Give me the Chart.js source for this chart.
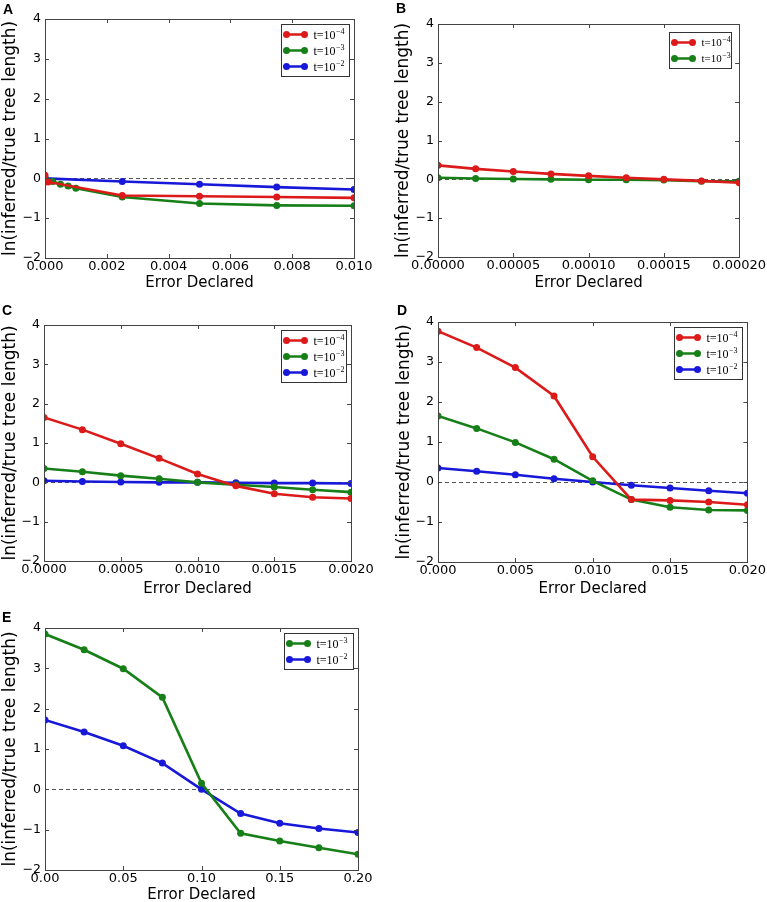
<!DOCTYPE html>
<html>
<head>
<meta charset="utf-8">
<script src="https://cdn.jsdelivr.net/npm/chart.js@4.4.0/dist/chart.umd.min.js"></script>
<style>
  body { margin: 0; background: #fff; overflow: hidden; }
  #fig { position: relative; width: 767px; height: 902px; background: #fff; }
  .panel { position: absolute; }
  .tag { position: absolute; font: bold 14px "Liberation Sans", Arial, sans-serif; line-height: 14px; color: #000; }
</style>
</head>
<body>
<div id="fig">
  <div class="panel" style="left:0px;top:0px;width:384px;height:300px"><canvas id="chartA"></canvas></div>
  <div class="panel" style="left:384px;top:0px;width:383px;height:300px"><canvas id="chartB"></canvas></div>
  <div class="panel" style="left:0px;top:300px;width:384px;height:300px"><canvas id="chartC"></canvas></div>
  <div class="panel" style="left:384px;top:300px;width:383px;height:300px"><canvas id="chartD"></canvas></div>
  <div class="panel" style="left:0px;top:600px;width:384px;height:310px"><canvas id="chartE"></canvas></div>
  <div class="tag" style="left:3px;top:2px">A</div>
  <div class="tag" style="left:396px;top:1px">B</div>
  <div class="tag" style="left:2px;top:303px">C</div>
  <div class="tag" style="left:397px;top:303px">D</div>
  <div class="tag" style="left:2px;top:610px">E</div>
</div>
<script>
'use strict';

// series names (exponent after ^)
const labelT4 = 't=10^−4';
const labelT3 = 't=10^−3';
const labelT2 = 't=10^−2';

const red = '#dc1a1a';
const green = '#177f17';
const blue = '#1818d8';

// y axis (same for all panels)
const yTicks = [-2, -1, 0, 1, 2, 3, 4];
const yTickLabels = ['−2', '−1', '0', '1', '2', '3', '4'];

/******************** */
// panel A

const xTickLabelsA = ['0.000', '0.002', '0.004', '0.006', '0.008', '0.010'];
const errA4 = [0, 0.0001, 0.0025, 0.005, 0.0075, 0.01];
const valA4 = [0.08, -0.09, -0.43, -0.45, -0.47, -0.49];
const errA3 = [0, 0.00025, 0.0005, 0.00075, 0.001, 0.0025, 0.005, 0.0075, 0.01];
const valA3 = [0.02, -0.08, -0.15, -0.19, -0.25, -0.47, -0.63, -0.68, -0.69];
const errA2 = [0, 0.0025, 0.005, 0.0075, 0.01];
const valA2 = [0.0, -0.08, -0.15, -0.22, -0.28];

/******************** */
// panel B

const xTickLabelsB = ['0.00000', '0.00005', '0.00010', '0.00015', '0.00020'];
const errB = [0, 0.000025, 0.00005, 0.000075, 0.0001, 0.000125, 0.00015, 0.000175, 0.0002];
const valB4 = [0.36, 0.27, 0.2, 0.14, 0.09, 0.04, 0.0, -0.04, -0.09];
const valB3 = [0.04, 0.02, 0.01, 0.0, -0.01, -0.01, -0.02, -0.05, -0.05];

/******************** */
// panel C

const xTickLabelsC = ['0.0000', '0.0005', '0.0010', '0.0015', '0.0020'];
const errC = [0, 0.00025, 0.0005, 0.00075, 0.001, 0.00125, 0.0015, 0.00175, 0.002];
const valC4 = [1.65, 1.34, 0.98, 0.61, 0.21, -0.09, -0.29, -0.38, -0.41];
const valC3 = [0.35, 0.27, 0.17, 0.09, 0.0, -0.06, -0.12, -0.19, -0.25];
const valC2 = [0.04, 0.02, 0.01, 0.0, 0.0, -0.01, -0.02, -0.02, -0.03];

/******************** */
// panel D

const xTickLabelsD = ['0.000', '0.005', '0.010', '0.015', '0.020'];
const errD = [0, 0.0025, 0.005, 0.0075, 0.01, 0.0125, 0.015, 0.0175, 0.02];
const valD4 = [3.77, 3.36, 2.86, 2.15, 0.63, -0.44, -0.46, -0.5, -0.57];
const valD3 = [1.65, 1.34, 0.99, 0.57, 0.03, -0.44, -0.63, -0.7, -0.71];
const valD2 = [0.35, 0.27, 0.18, 0.08, 0.0, -0.08, -0.15, -0.22, -0.28];

/******************** */
// panel E

const xTickLabelsE = ['0.00', '0.05', '0.10', '0.15', '0.20'];
const errE = [0, 0.025, 0.05, 0.075, 0.1, 0.125, 0.15, 0.175, 0.2];
const valE3 = [3.85, 3.46, 2.99, 2.28, 0.15, -1.09, -1.28, -1.45, -1.61];
const valE2 = [1.72, 1.42, 1.08, 0.65, 0.0, -0.6, -0.84, -0.97, -1.07];

/****************************************/
// plugins

// dashed zero line, box and inward ticks like old matplotlib
const mplFrame = {
    id: 'mplFrame',
    beforeDatasetsDraw(chart) {
        const { ctx, chartArea: a, scales } = chart;
        const y0 = Math.round(scales.y.getPixelForValue(0)) + 0.5;
        ctx.save();
        ctx.strokeStyle = '#555';
        ctx.lineWidth = 1;
        ctx.setLineDash([4, 3]);
        ctx.beginPath();
        ctx.moveTo(a.left, y0);
        ctx.lineTo(a.right, y0);
        ctx.stroke();
        ctx.restore();
    },
    afterDatasetsDraw(chart) {
        const { ctx, chartArea: a, scales } = chart;
        const len = 4;
        ctx.save();
        ctx.strokeStyle = '#444';
        ctx.lineWidth = 1;
        ctx.beginPath();
        scales.x.ticks.forEach(t => {
            const px = Math.round(scales.x.getPixelForValue(t.value)) + 0.5;
            ctx.moveTo(px, a.bottom);
            ctx.lineTo(px, a.bottom - len);
            ctx.moveTo(px, a.top);
            ctx.lineTo(px, a.top + len);
        });
        scales.y.ticks.forEach(t => {
            const py = Math.round(scales.y.getPixelForValue(t.value)) + 0.5;
            ctx.moveTo(a.left, py);
            ctx.lineTo(a.left + len, py);
            ctx.moveTo(a.right, py);
            ctx.lineTo(a.right - len, py);
        });
        ctx.stroke();
        ctx.strokeRect(Math.round(a.left) + 0.5, Math.round(a.top) + 0.5, Math.round(a.right - a.left), Math.round(a.bottom - a.top));
        ctx.restore();
    },
};

// legend box in the upper right corner
const mplLegend = {
    id: 'mplLegend',
    afterDraw(chart, args, opts) {
        const { ctx, chartArea: a } = chart;
        const sets = chart.data.datasets;
        const rowH = 16;
        const w = opts.width;
        const h = rowH * sets.length + 4;
        const x0 = Math.round(a.right - opts.inset - w) + 0.5;
        const y0 = Math.round(a.top + opts.inset) + 0.5;
        ctx.save();
        ctx.fillStyle = '#fff';
        ctx.strokeStyle = '#333';
        ctx.lineWidth = 1;
        ctx.fillRect(x0, y0, w, h);
        ctx.strokeRect(x0, y0, w, h);
        sets.forEach((ds, i) => {
            const cy = y0 + 10 + i * rowH;
            const lx0 = x0 + 5;
            const lx1 = x0 + 23;
            ctx.strokeStyle = ds.borderColor;
            ctx.fillStyle = ds.borderColor;
            ctx.lineWidth = 2.5;
            ctx.beginPath();
            ctx.moveTo(lx0, cy);
            ctx.lineTo(lx1, cy);
            ctx.stroke();
            [lx0, lx1].forEach(px => {
                ctx.beginPath();
                ctx.arc(px, cy, 3.5, 0, Math.PI * 2);
                ctx.fill();
            });
            const [base, exp] = ds.label.split('^');
            ctx.fillStyle = '#000';
            ctx.textBaseline = 'middle';
            ctx.font = `${opts.fontSize}px "Liberation Serif", serif`;
            const tx = x0 + 32;
            ctx.fillText(base, tx, cy + 1);
            const bw = ctx.measureText(base).width;
            ctx.font = `${Math.round(opts.fontSize * 0.7)}px "Liberation Serif", serif`;
            ctx.fillText(exp, tx + bw + 0.5, cy - 3);
        });
        ctx.restore();
    },
};

/****************************************/
// chart builder

const makeSet = (label, color, xs, ys) => ({
    label: label,
    data: xs.map((x, i) => ({ x: x, y: ys[i] })),
    borderColor: color,
    backgroundColor: color,
    pointBackgroundColor: color,
    pointBorderWidth: 0,
    pointRadius: 3.5,
    borderWidth: 2.6,
    tension: 0,
    clip: 0,
});

const makeChart = function (id, sets, xLabels, lay) {
    const xVals = xLabels.map(s => parseFloat(s));
    const ctx = document.getElementById(id).getContext('2d');
    return new Chart(ctx, {
        type: 'line',
        data: { datasets: sets },
        options: {
            responsive: true,
            maintainAspectRatio: false,
            animation: false,
            devicePixelRatio: 1,
            events: [],
            layout: { padding: lay.pad },
            plugins: {
                legend: { display: false },
                tooltip: { enabled: false },
                mplLegend: lay.legend,
            },
            scales: {
                x: {
                    type: 'linear',
                    min: xVals[0],
                    max: xVals[xVals.length - 1],
                    afterBuildTicks: s => { s.ticks = xVals.map(v => ({ value: v })); },
                    afterFit: s => { s.height = lay.xHeight; },
                    grid: { display: false, drawTicks: false },
                    border: { display: false },
                    ticks: {
                        padding: 1,
                        color: '#000',
                        autoSkip: false,
                        maxRotation: 0,
                        font: { family: 'DejaVu Sans', size: 13 },
                        callback: (v, i) => xLabels[i],
                    },
                    title: {
                        display: true,
                        text: 'Error Declared',
                        color: '#000',
                        padding: 0,
                        font: { family: 'DejaVu Sans', size: 15 },
                    },
                },
                y: {
                    min: -2,
                    max: 4,
                    afterBuildTicks: s => { s.ticks = yTicks.map(v => ({ value: v })); },
                    afterFit: s => { s.width = lay.yWidth; },
                    grid: { display: false, drawTicks: false },
                    border: { display: false },
                    ticks: {
                        padding: 4,
                        color: '#000',
                        font: { family: 'DejaVu Sans', size: 12.5 },
                        callback: (v, i) => yTickLabels[i],
                    },
                    title: {
                        display: true,
                        text: 'ln(inferred/true tree length)',
                        color: '#000',
                        padding: 0,
                        font: { family: 'DejaVu Sans', size: 17 },
                    },
                },
            },
        },
        plugins: [mplFrame, mplLegend],
    });
};

makeChart('chartA', [
    makeSet(labelT4, red, errA4, valA4),
    makeSet(labelT3, green, errA3, valA3),
    makeSet(labelT2, blue, errA2, valA2),
], xTickLabelsA, {
    pad: { left: 0, top: 19, right: 30, bottom: 8 }, yWidth: 45, xHeight: 34,
    legend: { inset: 5, width: 68, fontSize: 12 },
});

makeChart('chartB', [
    makeSet(labelT4, red, errB, valB4),
    makeSet(labelT3, green, errB, valB3),
], xTickLabelsB, {
    pad: { left: 9, top: 24, right: 25, bottom: 8 }, yWidth: 45, xHeight: 35,
    legend: { inset: 8, width: 62, fontSize: 11 },
});

makeChart('chartC', [
    makeSet(labelT4, red, errC, valC4),
    makeSet(labelT3, green, errC, valC3),
    makeSet(labelT2, blue, errC, valC2),
], xTickLabelsC, {
    pad: { left: 0, top: 25, right: 33, bottom: 2 }, yWidth: 44, xHeight: 37,
    legend: { inset: 5, width: 65, fontSize: 12 },
});

makeChart('chartD', [
    makeSet(labelT4, red, errD, valD4),
    makeSet(labelT3, green, errD, valD3),
    makeSet(labelT2, blue, errD, valD2),
], xTickLabelsD, {
    pad: { left: 10, top: 22, right: 18, bottom: 2 }, yWidth: 44, xHeight: 36,
    legend: { inset: 5, width: 68, fontSize: 12 },
});

makeChart('chartE', [
    makeSet(labelT3, green, errE, valE3),
    makeSet(labelT2, blue, errE, valE2),
], xTickLabelsE, {
    pad: { left: 0, top: 28, right: 26, bottom: 6 }, yWidth: 45, xHeight: 34,
    legend: { inset: 5, width: 69, fontSize: 12 },
});
</script>
</body>
</html>
